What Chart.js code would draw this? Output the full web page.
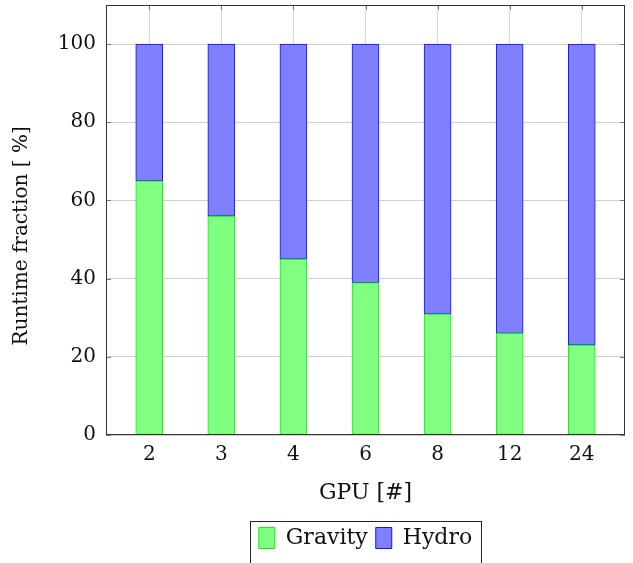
<!DOCTYPE html>
<html>
<head>
<meta charset="utf-8">
<script src="https://cdn.jsdelivr.net/npm/chart.js@4.4.0/dist/chart.umd.min.js"></script>
<style>
  html, body { margin: 0; padding: 0; background: #fff; }
  #wrap { width: 633px; height: 563px; }
</style>
</head>
<body>
<div id="wrap"><canvas id="myChart"></canvas></div>
<script>
var gpuLabels = ["2", "3", "4", "6", "8", "12", "24"];
var gravity = [65, 56, 45, 39, 31, 26, 23];
var hydro = [35, 44, 55, 61, 69, 74, 77];
var yTicks = [0, 20, 40, 60, 80, 100];

var serif = "'DejaVu Serif', 'Liberation Serif', serif";

// points on a linear x axis so the category spacing matches
function toPoints(arr) {
  var out = [];
  for (var i = 0; i < arr.length; i++) {
    out.push({ x: i, y: arr[i] });
  }
  return out;
}

// frame, inner ticks and legend box
const framePlugin = {
  id: "framePlugin",
  beforeDatasetsDraw(chart) {
    const ctx = chart.ctx;
    const a = chart.chartArea;
    const sx = chart.scales.x;
    const sy = chart.scales.y;
    ctx.save();
    ctx.strokeStyle = "#7a7a7a";
    ctx.lineWidth = 1;
    ctx.beginPath();
    sy.ticks.forEach(function (t) {
      var y = Math.round(sy.getPixelForValue(t.value)) + 0.5;
      ctx.moveTo(a.left, y); ctx.lineTo(a.left + 5, y);
      ctx.moveTo(a.right, y); ctx.lineTo(a.right - 5, y);
    });
    sx.ticks.forEach(function (t) {
      var x = Math.round(sx.getPixelForValue(t.value)) + 0.5;
      ctx.moveTo(x, a.top); ctx.lineTo(x, a.top + 5);
      ctx.moveTo(x, a.bottom); ctx.lineTo(x, a.bottom - 5);
    });
    ctx.stroke();
    ctx.restore();
  },
  afterDraw(chart) {
    const ctx = chart.ctx;
    const a = chart.chartArea;
    ctx.save();
    ctx.strokeStyle = "#333";
    ctx.lineWidth = 1;
    ctx.strokeRect(Math.round(a.left) + 0.5, Math.round(a.top) + 0.5,
      Math.round(a.width) - 1, Math.round(a.height) - 1);
    const boxes = chart.legend.legendHitBoxes;
    if (boxes && boxes.length) {
      var l = boxes[0].left - 9;
      var r = boxes[boxes.length - 1].left + boxes[boxes.length - 1].width + 9;
      var t = boxes[0].top - 6;
      var b = boxes[0].top + boxes[0].height + 6;
      ctx.strokeStyle = "#222";
      ctx.strokeRect(Math.round(l) + 0.5, Math.round(t) + 0.5, Math.round(r - l), Math.round(b - t) + 20);
    }
    ctx.restore();
  }
};

const ctx = document.getElementById("myChart");

new Chart(ctx, {
  type: "bar",
  data: {
    datasets: [
      {
        label: "Gravity",
        data: toPoints(gravity),
        backgroundColor: "#80ff80",
        borderColor: "#11ee11",
        borderWidth: 1,
        borderSkipped: false,
        barThickness: 27,
      },
      {
        label: "Hydro",
        data: toPoints(hydro),
        backgroundColor: "#8080ff",
        borderColor: "#1111ff",
        borderWidth: 1,
        borderSkipped: false,
        barThickness: 27,
      },
    ],
  },
  options: {
    responsive: true,
    maintainAspectRatio: false,
    animation: false,
    layout: { padding: { left: 0, right: 8, top: 5, bottom: 4 } },
    plugins: {
      tooltip: { enabled: false },
      legend: {
        position: "bottom",
        fullSize: false,
        labels: {
          color: "#111",
          font: { family: serif, size: 22 },
          boxWidth: 16,
          boxHeight: 21,
          padding: 8,
        },
      },
    },
    scales: {
      x: {
        type: "linear",
        stacked: true,
        min: -0.6,
        max: 6.6,
        offset: false,
        afterBuildTicks: function (scale) {
          scale.ticks = gpuLabels.map(function (_, i) { return { value: i }; });
        },
        afterFit: function (scale) {
          scale.height = 84;
          scale.paddingLeft = 0;
          scale.paddingRight = 0;
        },
        grid: { color: "#d9d9d9", drawTicks: false, offset: false },
        border: { display: false },
        ticks: {
          color: "#111",
          font: { family: serif, size: 20 },
          padding: 8,
          callback: function (v) { return gpuLabels[v]; },
        },
        title: {
          display: true,
          text: "GPU [#]",
          color: "#111",
          font: { family: serif, size: 22 },
          padding: { top: 6, bottom: 13 },
        },
      },
      y: {
        stacked: true,
        min: 0,
        max: 110,
        afterBuildTicks: function (scale) {
          scale.ticks = yTicks.map(function (v) { return { value: v }; });
        },
        afterFit: function (scale) {
          scale.width = 106;
          scale.paddingTop = 0;
          scale.paddingBottom = 0;
        },
        grid: { color: "#d0d0d0", drawTicks: false },
        border: { display: false },
        ticks: {
          color: "#111",
          font: { family: serif, size: 20 },
          padding: 10,
        },
        title: {
          display: true,
          text: "Runtime fraction [ %]\u00a0\u00a0\u00a0\u00a0\u00a0",
          color: "#111",
          font: { family: serif, size: 20 },
          padding: { top: 10, bottom: 4 },
        },
      },
    },
  },
  plugins: [framePlugin],
});
</script>
</body>
</html>
